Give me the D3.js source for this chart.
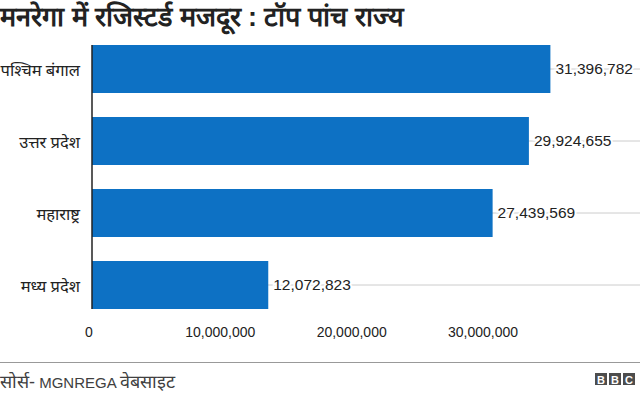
<!DOCTYPE html>
<html>
<head>
<meta charset="utf-8">
<script src="https://cdn.jsdelivr.net/npm/d3@7"></script>
<style>
  body { margin: 0; background: #fff; }
  svg { display: block; font-family: "Liberation Sans", Arial, sans-serif; }
</style>
</head>
<body>
<div id="chart"></div>
<script>
// data
const states = ["पश्चिम बंगाल", "उत्तर प्रदेश", "महाराष्ट्र", "मध्य प्रदेश"];
const workers = [31396782, 29924655, 27439569, 12072823];
const tickValues = [0, 10000000, 20000000, 30000000];

const title = "मनरेगा में रजिस्टर्ड मजदूर : टॉप पांच राज्य";
const sourceParts = [["सोर्स-", 18], [" MGNREGA ", 15], ["वेबसाइट", 18]];

const W = 640, H = 396;
const data = states.map((s, i) => ({ state: s, value: workers[i] }));

const svg = d3.select("#chart").append("svg")
    .attr("width", W)
    .attr("height", H);

// scales
let x = d3.scaleLinear()
          .domain([0, 30000000])
          .range([92, 530]);
// the tick labels in the original sit a little left of the bar scale
let xAxisScale = d3.scaleLinear()
          .domain([0, 30000000])
          .range([88.5, 482.5]);
let y = d3.scaleBand()
          .domain(states)
          .range([33, 321])
          .paddingInner(1 / 3)
          .paddingOuter(1 / 6);

// title
svg.append("text")
    .attr("x", 0)
    .attr("y", 26)
    .attr("font-size", 27)
    .attr("font-weight", "bold")
    .attr("fill", "#222")
    .text(title);

// grid lines at each bar's centre
svg.append("g")
  .selectAll("line")
  .data(data)
  .enter().append("line")
    .attr("x1", 92)
    .attr("x2", W)
    .attr("y1", d => y(d.state) + y.bandwidth() / 2)
    .attr("y2", d => y(d.state) + y.bandwidth() / 2)
    .attr("stroke", "#cccccc")
    .attr("stroke-width", 1);

// bars
svg.selectAll(".bar")
    .data(data)
  .enter().append("rect")
    .attr("class", "bar")
    .attr("fill", "#0d71c4")
    .attr("x", x(0))
    .attr("y", d => y(d.state))
    .attr("width", d => x(d.value) - x(0))
    .attr("height", y.bandwidth());

// value labels
svg.selectAll(".val")
    .data(data)
  .enter().append("text")
    .attr("class", "val")
    .attr("x", d => x(d.value) + 5)
    .attr("y", d => y(d.state) + y.bandwidth() / 2)
    .attr("dy", "0.35em")
    .attr("font-size", 15.5)
    .attr("fill", "#222")
    .attr("stroke", "#fff")
    .attr("stroke-width", 4)
    .attr("paint-order", "stroke")
    .text(d => d3.format(",")(d.value));

// y axis
const yAxis = svg.append("g")
    .attr("transform", "translate(92,0)")
    .call(d3.axisLeft(y).tickSize(0).tickPadding(12));
yAxis.select(".domain")
    .attr("stroke", "#222")
    .attr("stroke-width", 1.5)
    .attr("d", "M0," + (y(states[0])) + "V" + (y(states[3]) + y.bandwidth()));
yAxis.selectAll("text")
    .attr("font-size", 16.5)
    .attr("dy", "0.4em")
    .attr("font-family", "'Noto Sans', sans-serif")
    .attr("fill", "#222");

// x axis (labels only)
const xAxis = svg.append("g")
    .attr("transform", "translate(0,322)")
    .call(d3.axisBottom(xAxisScale).tickValues(tickValues).tickSize(0).tickPadding(5)
          .tickFormat(d3.format(",")));
xAxis.select(".domain").remove();
xAxis.selectAll("text")
    .attr("font-size", 14)
    .attr("font-family", "'Liberation Sans', Arial, sans-serif")
    .attr("fill", "#222");

// footer
svg.append("line")
    .attr("x1", 0).attr("x2", W)
    .attr("y1", 362.5).attr("y2", 362.5)
    .attr("stroke", "#999")
    .attr("stroke-width", 1);

svg.append("text")
    .attr("x", 0)
    .attr("y", 388)
    .attr("fill", "#404040")
  .selectAll("tspan")
  .data(sourceParts)
  .enter().append("tspan")
    .attr("font-size", d => d[1])
    .text(d => d[0]);

// BBC blocks
const logo = svg.append("g").attr("transform", "translate(595,373)");
["B", "B", "C"].forEach((c, i) => {
  logo.append("rect")
      .attr("x", i * 14)
      .attr("width", 12)
      .attr("height", 12)
      .attr("fill", "#4d4d4d");
  logo.append("text")
      .attr("x", i * 14 + 6)
      .attr("y", 10.5)
      .attr("text-anchor", "middle")
      .attr("font-size", 11)
      .attr("font-weight", "bold")
      .attr("fill", "#fff")
      .text(c);
});
</script>
</body>
</html>
